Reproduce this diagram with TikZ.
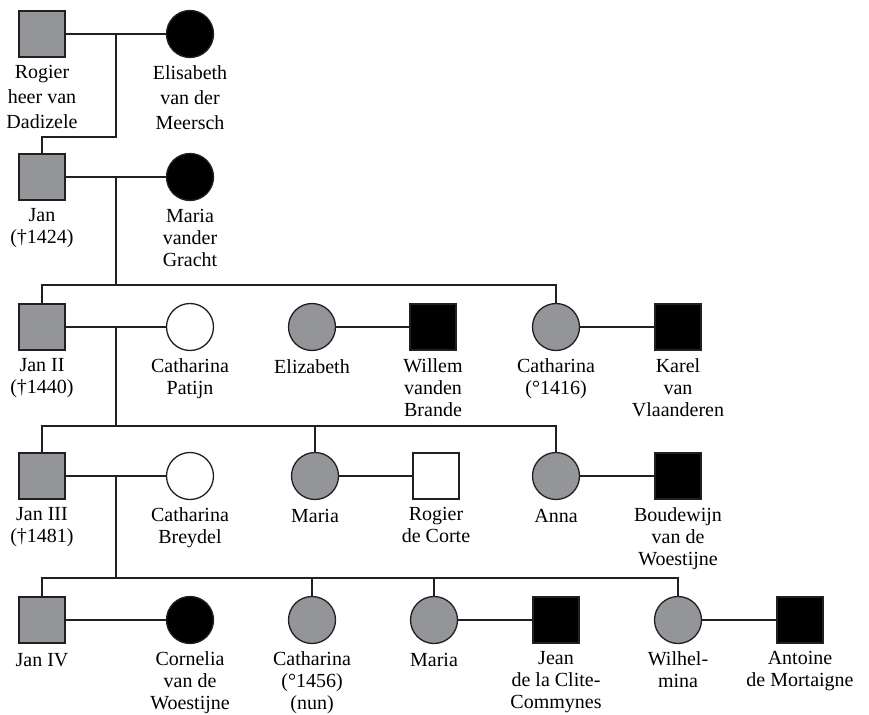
\documentclass[tikz,border=0pt]{standalone}
\usepackage{fontspec}
\setmainfont{Liberation Serif}
\definecolor{ink}{HTML}{231F20}
\definecolor{mid}{HTML}{939598}
\begin{document}
\begin{tikzpicture}[x=1pt,y=-1pt,
  line width=1.3pt, draw=ink,
  person/.style={draw=ink, line width=1.3pt, inner sep=0pt},
  male/.style={person, rectangle, minimum size=46pt},
  female/.style={person, circle, minimum size=47pt},
  grayf/.style={fill=mid},
  blackf/.style={fill=black},
  whitef/.style={fill=white},
  lbl/.style={anchor=north, inner sep=0pt, align=center, text=black,
    font=\fontsize{20}{22}\selectfont, execute at begin node={\rule{0pt}{15pt}}},
  lblw/.style={lbl, font=\fontsize{20}{25}\selectfont},
  link/.style={draw=ink, line width=1.3pt}
]
\useasboundingbox (0,0) rectangle (869,714);
% Row 1
\node[male,grayf] (r1a) at (42,34) {};
\node[female,blackf] (r1b) at (190,34) {};
\node[lblw] (t1a) at ([yshift=-7pt]r1a.south) {Rogier\\heer van\\Dadizele};
\node[lblw] (t1b) at ([yshift=-7pt]r1b.south) {Elisabeth\\van der\\Meersch};
% Row 2
\node[male,grayf] (r2a) at (42,177) {};
\node[female,blackf] (r2b) at (190,177) {};
\node[lbl] (t2a) at ([yshift=-7pt]r2a.south) {Jan\\(†1424)};
\node[lbl] (t2b) at ([yshift=-7pt]r2b.south) {Maria\\vander\\Gracht};
% Row 3
\node[male,grayf] (r3a) at (42,327) {};
\node[female,whitef] (r3b) at (190,327) {};
\node[female,grayf] (r3c) at (312,327) {};
\node[male,blackf] (r3d) at (433,327) {};
\node[female,grayf] (r3e) at (556,327) {};
\node[male,blackf] (r3f) at (678,327) {};
\node[lbl] (t3a) at ([yshift=-7pt]r3a.south) {Jan II\\(†1440)};
\node[lbl] (t3b) at ([yshift=-7pt]r3b.south) {Catharina\\Patijn};
\node[lbl] (t3c) at ([yshift=-7pt]r3c.south) {Elizabeth};
\node[lbl] (t3d) at ([yshift=-7pt]r3d.south) {Willem\\vanden\\Brande};
\node[lbl] (t3e) at ([yshift=-7pt]r3e.south) {Catharina\\(°1416)};
\node[lbl] (t3f) at ([yshift=-7pt]r3f.south) {Karel\\van\\Vlaanderen};
% Row 4
\node[male,grayf] (r4a) at (42,476) {};
\node[female,whitef] (r4b) at (190,476) {};
\node[female,grayf] (r4c) at (315,476) {};
\node[male,whitef] (r4d) at (436,476) {};
\node[female,grayf] (r4e) at (556,476) {};
\node[male,blackf] (r4f) at (678,476) {};
\node[lbl] (t4a) at ([yshift=-7pt]r4a.south) {Jan III\\(†1481)};
\node[lbl] (t4b) at ([yshift=-7pt]r4b.south) {Catharina\\Breydel};
\node[lbl] (t4c) at ([yshift=-7pt]r4c.south) {Maria};
\node[lbl] (t4d) at ([yshift=-7pt]r4d.south) {Rogier\\de Corte};
\node[lbl] (t4e) at ([yshift=-7pt]r4e.south) {Anna};
\node[lbl] (t4f) at ([yshift=-7pt]r4f.south) {Boudewijn\\van de\\Woestijne};
% Row 5
\node[male,grayf] (r5a) at (42,620) {};
\node[female,blackf] (r5b) at (190,620) {};
\node[female,grayf] (r5c) at (312,620) {};
\node[female,grayf] (r5d) at (434,620) {};
\node[male,blackf] (r5e) at (556,620) {};
\node[female,grayf] (r5f) at (678,620) {};
\node[male,blackf] (r5g) at (800,620) {};
\node[lbl] (t5a) at ([yshift=-7pt]r5a.south) {Jan IV};
\node[lbl] (t5b) at ([yshift=-7pt]r5b.south) {Cornelia\\van de\\Woestijne};
\node[lbl] (t5c) at ([yshift=-7pt]r5c.south) {Catharina\\(°1456)\\(nun)};
\node[lbl] (t5d) at ([yshift=-7pt]r5d.south) {Maria};
\node[lbl] (t5e) at ([yshift=-7pt]r5e.south) {Jean\\de la Clite-\\Commynes};
\node[lbl] (t5f) at ([yshift=-7pt]r5f.south) {Wilhel-\\mina};
\node[lbl] (t5g) at ([yshift=-7pt]r5g.south) {Antoine\\de Mortaigne};
% Marriage lines
\draw[link] (r1a.east) -- (r1b.west);
\draw[link] (r2a.east) -- (r2b.west);
\draw[link] (r3a.east) -- (r3b.west);
\draw[link] (r3c.east) -- (r3d.west);
\draw[link] (r3e.east) -- (r3f.west);
\draw[link] (r4a.east) -- (r4b.west);
\draw[link] (r4c.east) -- (r4d.west);
\draw[link] (r4e.east) -- (r4f.west);
\draw[link] (r5a.east) -- (r5b.west);
\draw[link] (r5d.east) -- (r5e.west);
\draw[link] (r5f.east) -- (r5g.west);
% Descent lines
\coordinate (m1) at (116,34);  \coordinate (c1) at (116,137);
\coordinate (m2) at (116,177); \coordinate (c2) at (116,285);
\coordinate (m3) at (116,327); \coordinate (c3) at (116,426);
\coordinate (m4) at (116,476); \coordinate (c4) at (116,578);
\draw[link] (m1) -- (c1) -| (r2a.north);
\draw[link] (m2) -- (c2);
\draw[link] (r3a.north) |- (r3e.north |- c2) -- (r3e.north);
\draw[link] (m3) -- (c3);
\draw[link] (r4a.north) |- (r4e.north |- c3) -- (r4e.north);
\draw[link] (r4c.north) -- (r4c.north |- c3);
\draw[link] (m4) -- (c4);
\draw[link] (r5a.north) |- (r5f.north |- c4) -- (r5f.north);
\draw[link] (r5c.north) -- (r5c.north |- c4);
\draw[link] (r5d.north) -- (r5d.north |- c4);
\end{tikzpicture}
\end{document}
